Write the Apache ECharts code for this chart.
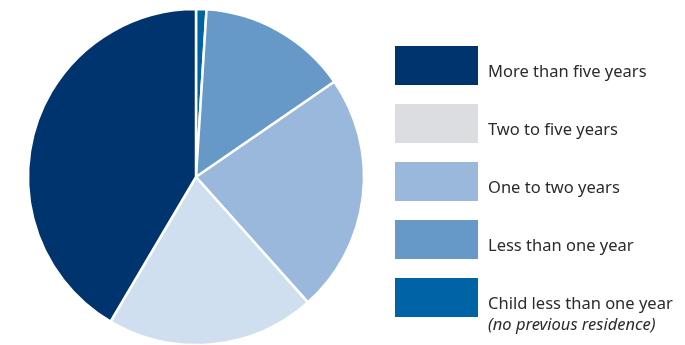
<!DOCTYPE html>
<html>
<head>
<meta charset="utf-8">
<script src="https://cdn.jsdelivr.net/npm/echarts@6/dist/echarts.min.js"></script>
<style>
  html, body { margin: 0; padding: 0; background: #fff; }
  #chart { width: 685px; height: 345px; }
</style>
</head>
<body>
<div id="chart"></div>
<script>
// Length of time at the previous residence (share of respondents, %)
const categories = [
  'Child less than one year',
  'Less than one year',
  'One to two years',
  'Two to five years',
  'More than five years'
];
const shares = [1.0, 14.4, 23.0, 20.1, 41.5];
const sliceColors = ['#0063a6', '#6699c8', '#9ab8dc', '#d0dff0', '#00346e'];
// Legend order (top to bottom) and swatch colours
const legendOrder = [
  'More than five years',
  'Two to five years',
  'One to two years',
  'Less than one year',
  'Child less than one year'
];
const legendColors = ['#00346e', '#dcdde0', '#9ab8dc', '#6699c8', '#0063a6'];
const childNote = '(no previous residence)';

const chart = echarts.init(document.getElementById('chart'), null, { renderer: 'canvas' });

const pieData = categories.map((name, i) => ({
  name,
  value: shares[i],
  itemStyle: { color: sliceColors[i] }
}));

const legendData = legendOrder.map((name, i) => {
  const item = { name, itemStyle: { color: legendColors[i] } };
  if (name === 'Child less than one year') {
    item.textStyle = { padding: [35, 0, 0, 5] };
  }
  return item;
});

chart.setOption({
  animation: false,
  backgroundColor: '#ffffff',
  legend: {
    orient: 'vertical',
    left: 395,
    top: 46,
    padding: 0,
    icon: 'rect',
    itemWidth: 83,
    itemHeight: 39,
    itemGap: 19,
    selectedMode: false,
    data: legendData,
    itemStyle: { borderWidth: 0 },
    formatter: function (name) {
      if (name === 'Child less than one year') {
        return '{a|' + name + '}\n{b|' + childNote + '}';
      }
      return '{a|' + name + '}';
    },
    textStyle: {
      fontFamily: 'Noto Sans',
      fontSize: 16.5,
      color: '#2b2b2b',
      padding: [14, 0, 0, 5],
      rich: {
        a: { fontFamily: 'Noto Sans', fontSize: 16.5, color: '#2b2b2b', lineHeight: 21 },
        b: { fontFamily: 'Noto Sans', fontSize: 16.5, fontStyle: 'italic', color: '#2b2b2b', lineHeight: 21 }
      }
    }
  },
  series: [{
    type: 'pie',
    center: [196, 177],
    radius: 168,
    startAngle: 90,
    clockwise: true,
    silent: true,
    label: { show: false },
    labelLine: { show: false },
    emphasis: { disabled: true },
    itemStyle: { borderColor: '#ffffff', borderWidth: 2.5 },
    data: pieData
  }]
});
</script>
</body>
</html>
